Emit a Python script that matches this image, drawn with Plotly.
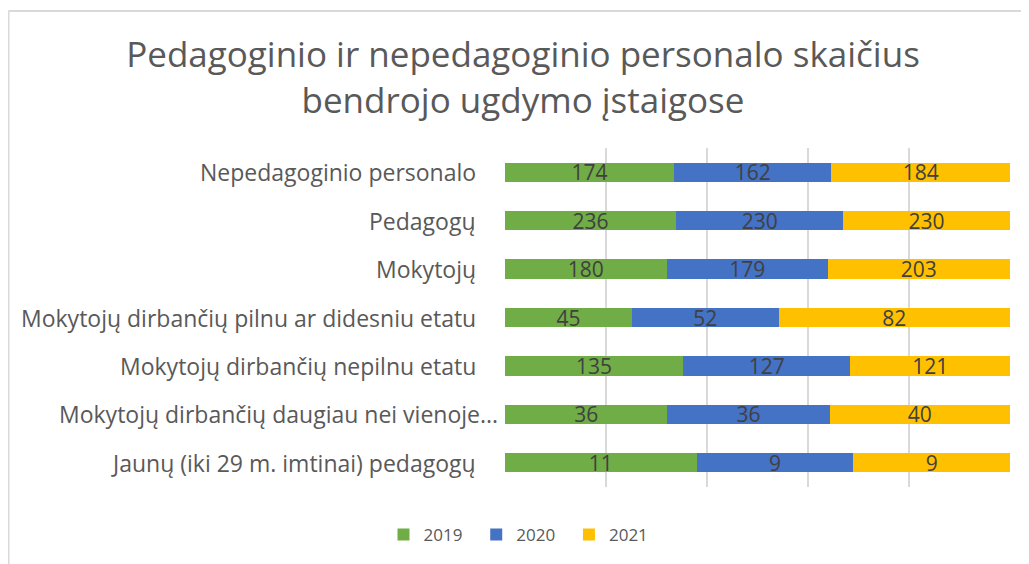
import plotly.graph_objects as go

categories = [
    "Nepedagoginio personalo",
    "Pedagogų",
    "Mokytojų",
    "Mokytojų dirbančių pilnu ar didesniu etatu",
    "Mokytojų dirbančių nepilnu etatu",
    "Mokytojų dirbančių daugiau nei vienoje...",
    "Jaunų (iki 29 m. imtinai) pedagogų",
]
v2019 = [174, 236, 180, 45, 135, 36, 11]
v2020 = [162, 230, 179, 52, 127, 36, 9]
v2021 = [184, 230, 203, 82, 121, 40, 9]
series_names = ["2019", "2020", "2021"]
colors = ["#70AD47", "#4472C4", "#FFC000"]

OFF = 8  # page body margin
W, H = 1029 - OFF, 564 - OFF
L, R, T, B = 505 - OFF, 19, 148 - OFF, 76
pw, ph = W - L - R, H - T - B
FONT = "Open Sans"


def px_x(p):
    return (p - OFF - L) / pw


def px_y(p):
    return (H - B - (p - OFF)) / ph


fig = go.Figure()
for name, vals, col in zip(series_names, [v2019, v2020, v2021], colors):
    fig.add_trace(go.Bar(
        y=categories, x=vals, name=name + "\u00a0\u00a0", orientation="h",
        marker=dict(color=col, line=dict(width=0)),
        text=[str(v) for v in vals], textposition="inside",
        insidetextanchor="middle", textangle=0,
        textfont=dict(family=FONT, size=21, color="#404040"),
        constraintext="none",
    ))

# category labels as annotations (the truncated one sits further right, as in the original)
annotations = []
for c in categories:
    shift = -5 if c.endswith("...") else -27
    annotations.append(dict(
        x=0, xref="paper", y=c, yref="y", text=c, showarrow=False,
        xanchor="right", yanchor="middle", xshift=shift,
        font=dict(family=FONT, size=23, color="#595959"),
    ))

fig.update_layout(
    barmode="stack", barnorm="percent",
    width=W, height=H,
    margin=dict(l=L, r=R, t=T, b=B, pad=0),
    paper_bgcolor="white", plot_bgcolor="white",
    bargap=0.6,
    title=dict(
        text="Pedagoginio ir nepedagoginio personalo skaičius<br>bendrojo ugdymo įstaigose",
        x=(523 - OFF) / W, xref="container", xanchor="center",
        y=1 - 59 / H, yref="container", yanchor="top",
        font=dict(family=FONT, size=35, color="#595959"),
    ),
    legend=dict(
        orientation="h", x=px_x(523), xanchor="center", y=px_y(535), yanchor="middle",
        font=dict(family=FONT, size=17, color="#595959"),
        traceorder="normal", itemwidth=30,
    ),
    xaxis=dict(
        range=[0, 100], tickvals=[0, 20, 40, 60, 80, 100], showticklabels=False,
        showgrid=True, gridcolor="#D9D9D9", gridwidth=1.5, zeroline=False,
        showline=False, fixedrange=True,
    ),
    yaxis=dict(
        autorange="reversed", showgrid=False, zeroline=False, showline=False,
        ticks="", showticklabels=False,
    ),
    annotations=annotations,
    shapes=[
        dict(type="line", xref="paper", yref="paper",
             x0=px_x(8.5), x1=px_x(8.5), y0=px_y(10.5), y1=px_y(600),
             line=dict(color="#D9D9D9", width=2)),
        dict(type="line", xref="paper", yref="paper",
             x0=px_x(8.5), x1=px_x(1100), y0=px_y(10.5), y1=px_y(10.5),
             line=dict(color="#D9D9D9", width=2)),
    ],
)

fig.write_html("out.html")
